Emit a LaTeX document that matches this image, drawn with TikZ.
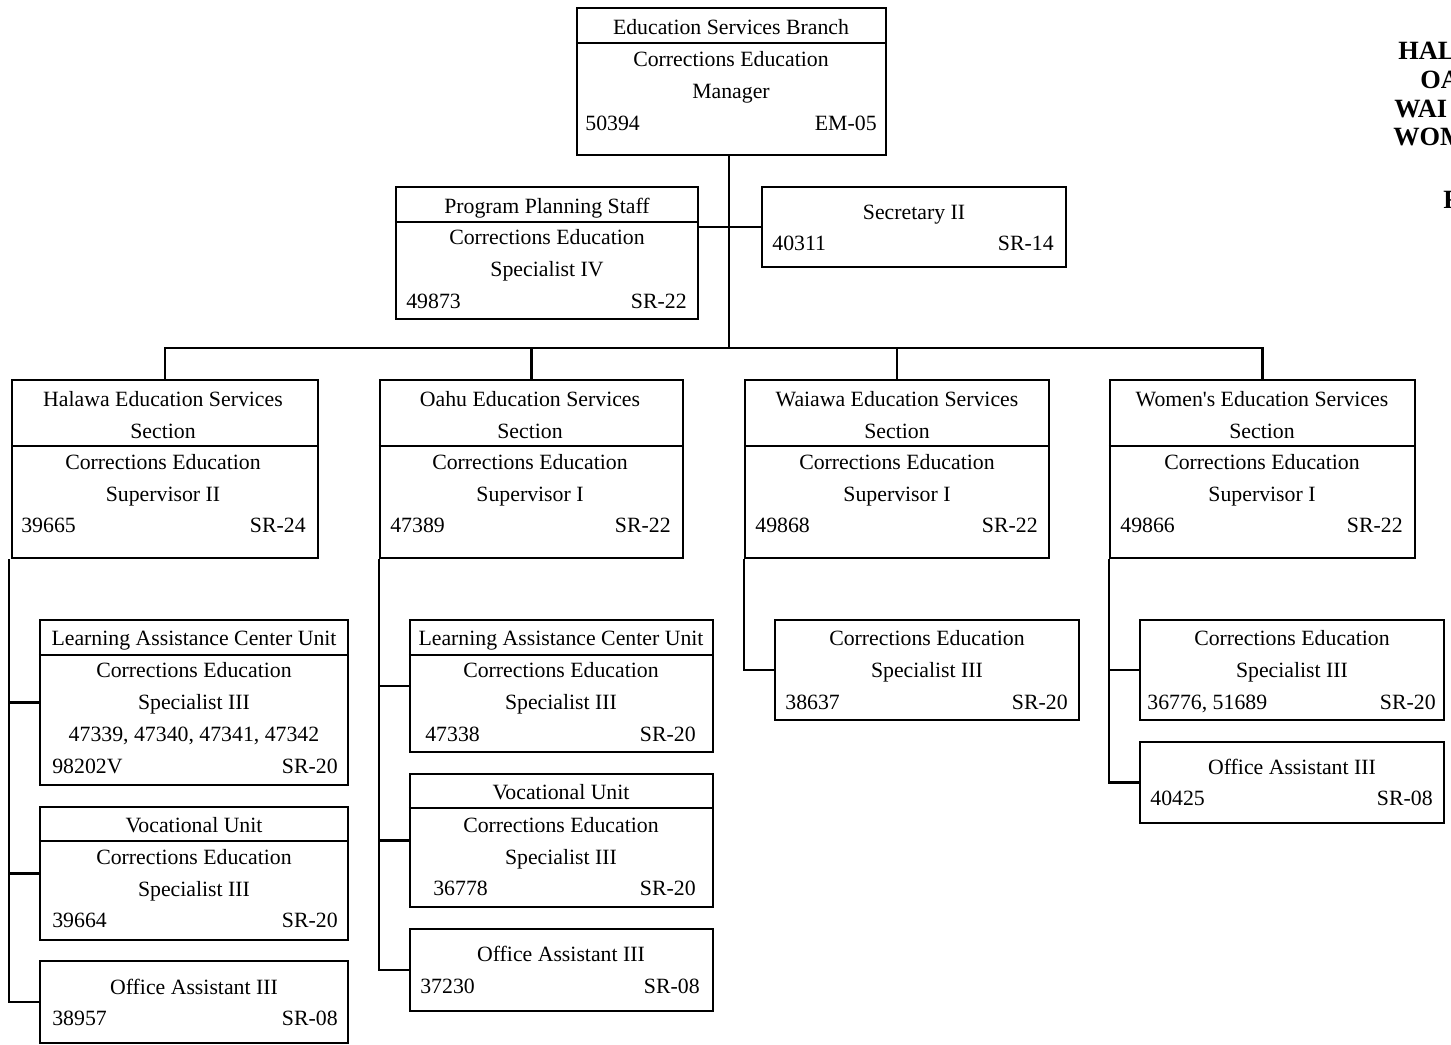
\documentclass[tikz,border=0pt]{standalone}
\usepackage{fontspec}
\setmainfont{Liberation Serif}
\usepackage{tikz}
\usetikzlibrary{
  positioning,
  fit
}
\tikzset{
  posbox/.style={
    draw,
    line width=1.2pt,
    inner sep=0pt
  },
  cell/.style={
    inner sep=0pt,
    text height=10.5pt,
    text depth=2pt,
    font=\fontsize{12.4}{15}\selectfont
  },
  numcell/.style={cell,anchor=west},
  gradecell/.style={cell,anchor=east},
  sidehead/.style={inner sep=0pt,anchor=west,font=\fontsize{15}{18}\selectfont\bfseries},
  divider/.style={line width=1.2pt},
  orgline/.style={line width=1.3pt},
}

\begin{document}
\begin{tikzpicture}[x=0.02cm,y=-0.02cm]
  \useasboundingbox (0,0) rectangle (1451,1045);

  % Branch manager
  \node[posbox,fit={(577,8) (886,155)}] (mgr) {};
  \draw[divider] (mgr.west |- 0,43) -- (mgr.east |- 0,43);
  \node[cell] (mgrtitle) at (731,27) {Education Services Branch};
  \node[cell] (mgrpos) at (731,59) {Corrections Education};
  \node[cell] (mgrpos2) at (731,91) {Manager};
  \node[numcell] (mgrnum) at (585,123) {50394};
  \node[gradecell] (mgrgrade) at (877,123) {EM-05};

  % Staff level
  \node[posbox,fit={(396,187) (698,319)}] (pps) {};
  \draw[divider] (pps.west |- 0,222) -- (pps.east |- 0,222);
  \node[cell] (ppstitle) at (547,206) {Program Planning Staff};
  \node[cell] (ppspos) at (547,237) {Corrections Education};
  \node[cell] (ppspos2) at (547,269) {Specialist IV};
  \node[numcell] (ppsnum) at (406,301) {49873};
  \node[gradecell] (ppsgrade) at (687,301) {SR-22};

  \node[posbox,fit={(762,187) (1066,267)}] (sec) {};
  \node[cell] (secpos) at (914,212) {Secretary II};
  \node[numcell] (secnum) at (772,243) {40311};
  \node[gradecell] (secgrade) at (1054,243) {SR-14};

  % Sections
  \node[posbox,fit={(12,380) (318,558)}] (hal) {};
  \draw[divider] (hal.west |- 0,446) -- (hal.east |- 0,446);
  \node[cell] (haltitle) at (163,399) {Halawa Education Services};
  \node[cell] (haltitle2) at (163,431) {Section};
  \node[cell] (halpos) at (163,462) {Corrections Education};
  \node[cell] (halpos2) at (163,494) {Supervisor II};
  \node[numcell] (halnum) at (21,525) {39665};
  \node[gradecell] (halgrade) at (306,525) {SR-24};

  \node[posbox,fit={(380,380) (683,558)}] (oah) {};
  \draw[divider] (oah.west |- 0,446) -- (oah.east |- 0,446);
  \node[cell] (oahtitle) at (530,399) {Oahu Education Services};
  \node[cell] (oahtitle2) at (530,431) {Section};
  \node[cell] (oahpos) at (530,462) {Corrections Education};
  \node[cell] (oahpos2) at (530,494) {Supervisor I};
  \node[numcell] (oahnum) at (390,525) {47389};
  \node[gradecell] (oahgrade) at (671,525) {SR-22};

  \node[posbox,fit={(745,380) (1049,558)}] (wai) {};
  \draw[divider] (wai.west |- 0,446) -- (wai.east |- 0,446);
  \node[cell] (waititle) at (897,399) {Waiawa Education Services};
  \node[cell] (waititle2) at (897,431) {Section};
  \node[cell] (waipos) at (897,462) {Corrections Education};
  \node[cell] (waipos2) at (897,494) {Supervisor I};
  \node[numcell] (wainum) at (755,525) {49868};
  \node[gradecell] (waigrade) at (1038,525) {SR-22};

  \node[posbox,fit={(1110,380) (1415,558)}] (wom) {};
  \draw[divider] (wom.west |- 0,446) -- (wom.east |- 0,446);
  \node[cell] (womtitle) at (1262,399) {Women\textquotesingle s Education Services};
  \node[cell] (womtitle2) at (1262,431) {Section};
  \node[cell] (wompos) at (1262,462) {Corrections Education};
  \node[cell] (wompos2) at (1262,494) {Supervisor I};
  \node[numcell] (womnum) at (1120,525) {49866};
  \node[gradecell] (womgrade) at (1403,525) {SR-22};

  % Halawa units
  \node[posbox,fit={(40,620) (348,785)}] (hallac) {};
  \draw[divider] (hallac.west |- 0,655) -- (hallac.east |- 0,655);
  \node[cell] (hallactitle) at (194,638) {Learning Assistance Center Unit};
  \node[cell] (hallacpos) at (194,670) {Corrections Education};
  \node[cell] (hallacpos2) at (194,702) {Specialist III};
  \node[cell] (hallacnums) at (194,734) {47339, 47340, 47341, 47342};
  \node[numcell] (hallacnum) at (52,766) {98202V};
  \node[gradecell] (hallacgrade) at (338,766) {SR-20};

  \node[posbox,fit={(40,807) (348,940)}] (halvoc) {};
  \draw[divider] (halvoc.west |- 0,841) -- (halvoc.east |- 0,841);
  \node[cell] (halvoctitle) at (194,825) {Vocational Unit};
  \node[cell] (halvocpos) at (194,857) {Corrections Education};
  \node[cell] (halvocpos2) at (194,889) {Specialist III};
  \node[numcell] (halvocnum) at (52,920) {39664};
  \node[gradecell] (halvocgrade) at (338,920) {SR-20};

  \node[posbox,fit={(40,961) (348,1043)}] (haloa) {};
  \node[cell] (haloapos) at (194,987) {Office Assistant III};
  \node[numcell] (haloanum) at (52,1018) {38957};
  \node[gradecell] (haloagrade) at (338,1018) {SR-08};

  % Oahu units
  \node[posbox,fit={(410,620) (713,752)}] (oahlac) {};
  \draw[divider] (oahlac.west |- 0,655) -- (oahlac.east |- 0,655);
  \node[cell] (oahlactitle) at (561,638) {Learning Assistance Center Unit};
  \node[cell] (oahlacpos) at (561,670) {Corrections Education};
  \node[cell] (oahlacpos2) at (561,702) {Specialist III};
  \node[numcell] (oahlacnum) at (425,734) {47338};
  \node[gradecell] (oahlacgrade) at (696,734) {SR-20};

  \node[posbox,fit={(410,774) (713,907)}] (oahvoc) {};
  \draw[divider] (oahvoc.west |- 0,808) -- (oahvoc.east |- 0,808);
  \node[cell] (oahvoctitle) at (561,792) {Vocational Unit};
  \node[cell] (oahvocpos) at (561,825) {Corrections Education};
  \node[cell] (oahvocpos2) at (561,857) {Specialist III};
  \node[numcell] (oahvocnum) at (433,888) {36778};
  \node[gradecell] (oahvocgrade) at (696,888) {SR-20};

  \node[posbox,fit={(410,929) (713,1011)}] (oahoa) {};
  \node[cell] (oahoapos) at (561,954) {Office Assistant III};
  \node[numcell] (oahoanum) at (420,986) {37230};
  \node[gradecell] (oahoagrade) at (700,986) {SR-08};

  % Waiawa unit
  \node[posbox,fit={(775,620) (1079,720)}] (waispec) {};
  \node[cell] (waispecpos) at (927,638) {Corrections Education};
  \node[cell] (waispecpos2) at (927,670) {Specialist III};
  \node[numcell] (waispecnum) at (785,702) {38637};
  \node[gradecell] (waispecgrade) at (1068,702) {SR-20};

  % Women's units
  \node[posbox,fit={(1140,620) (1444,720)}] (womspec) {};
  \node[cell] (womspecpos) at (1292,638) {Corrections Education};
  \node[cell] (womspecpos2) at (1292,670) {Specialist III};
  \node[numcell] (womspecnum) at (1147,702) {36776, 51689};
  \node[gradecell] (womspecgrade) at (1436,702) {SR-20};

  \node[posbox,fit={(1140,742) (1444,823)}] (womoa) {};
  \node[cell] (womoapos) at (1292,767) {Office Assistant III};
  \node[numcell] (womoanum) at (1150,798) {40425};
  \node[gradecell] (womoagrade) at (1433,798) {SR-08};

  % Side heading (cut off at the page edge)
  \node[sidehead] (sidehal) at (1398,51) {HAL};
  \node[sidehead] (sideoa) at (1420,80) {OA};
  \node[sidehead] (sidewai) at (1394,109) {WAI};
  \node[sidehead] (sidewom) at (1393,137) {WOM};
  \node[sidehead] (sidef) at (1443,200) {F};

  % Connectors
  \coordinate (bus) at (729,348);
  \draw[orgline] (mgr.south -| bus) -- (bus);
  \draw[orgline] (pps.east |- sec.west) -- (sec.west);
  \draw[orgline] (hal.north) -- (hal.north |- bus) -| (wom.north);
  \draw[orgline] (oah.north) -- (oah.north |- bus);
  \draw[orgline] (wai.north) -- (wai.north |- bus);

  \draw[orgline] (hal.south west) ++(-2,0) |- (haloa.west);
  \draw[orgline] (hal.south west |- hallac.west) ++(-2,0) -- (hallac.west);
  \draw[orgline] (hal.south west |- halvoc.west) ++(-2,0) -- (halvoc.west);

  \draw[orgline] (oah.south west) |- (oahoa.west);
  \draw[orgline] (oah.south west |- oahlac.west) -- (oahlac.west);
  \draw[orgline] (oah.south west |- oahvoc.west) -- (oahvoc.west);

  \draw[orgline] (wai.south west) |- (waispec.west);

  \draw[orgline] (wom.south west) |- (womoa.west);
  \draw[orgline] (wom.south west |- womspec.west) -- (womspec.west);
\end{tikzpicture}
\end{document}
